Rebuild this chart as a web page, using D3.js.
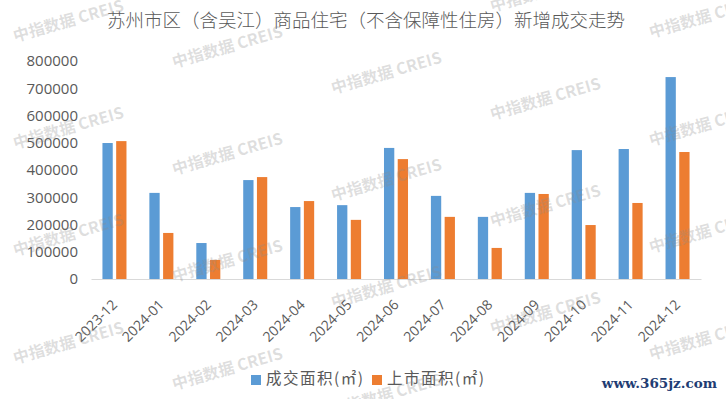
<!DOCTYPE html>
<html>
<head>
<meta charset="utf-8">
<script src="https://cdn.jsdelivr.net/npm/d3@7"></script>
<style>
  body { margin: 0; background: #fff; }
  svg { display: block; }
</style>
</head>
<body>
<script>
const width = 726;
const height = 399;

// 数据
const months = ['2023-12', '2024-01', '2024-02', '2024-03', '2024-04', '2024-05', '2024-06',
                '2024-07', '2024-08', '2024-09', '2024-10', '2024-11', '2024-12'];
const dealArea = [499000, 316000, 132000, 363000, 264000, 271000, 481000,
                  305000, 228000, 316000, 473000, 477000, 741000];
const listArea = [506000, 169000, 70000, 374000, 286000, 217000, 440000,
                  228000, 114000, 312000, 198000, 279000, 466000];
const seriesNames = ['成交面积(㎡)', '上市面积(㎡)'];
const yTicks = [0, 100000, 200000, 300000, 400000, 500000, 600000, 700000, 800000];
const colors = ['#5b9bd5', '#ed7d31'];

const margin = {left: 91, right: 25, top: 61, bottom: 120};

const svg = d3.select('body')
    .append('svg')
    .attr('width', width)
    .attr('height', height);

svg.append('rect').attr('width', width).attr('height', height).attr('fill', '#fff');

const x0 = d3.scaleBand()
    .domain(months)
    .range([margin.left, width - margin.right])
    .paddingInner(0.488)
    .paddingOuter(0.244);

const x1 = d3.scaleBand()
    .domain([0, 1])
    .range([0, x0.bandwidth()])
    .paddingInner(0.25);

const y = d3.scaleLinear()
    .domain([0, 800000])
    .range([279, 61]);

// 标题
svg.append('text')
    .attr('x', 366)
    .attr('y', 22)
    .attr('text-anchor', 'middle')
    .attr('dominant-baseline', 'middle')
    .attr('font-family', '"Noto Sans CJK SC", sans-serif')
    .attr('font-weight', 300)
    .attr('font-size', 18.5)
    .attr('fill', '#595959')
    .text('苏州市区（含吴江）商品住宅（不含保障性住房）新增成交走势');

// y轴
const yAxis = svg.append('g')
    .attr('transform', 'translate(' + margin.left + ',0)')
    .call(d3.axisLeft(y).tickValues(yTicks).tickSize(0).tickPadding(13).tickFormat(d3.format('d')));
yAxis.select('.domain').remove();
yAxis.selectAll('text')
    .attr('font-family', '"Open Sans", sans-serif')
    .attr('font-size', 15)
    .attr('fill', '#595959');

// 柱子
const groups = svg.selectAll('.grp')
    .data(months)
    .enter()
    .append('g')
    .attr('class', 'grp')
    .attr('transform', d => 'translate(' + x0(d) + ',0)');

groups.selectAll('rect')
    .data((d, i) => [dealArea[i], listArea[i]])
    .enter()
    .append('rect')
    .attr('x', (d, j) => x1(j))
    .attr('width', x1.bandwidth())
    .attr('y', d => y(d))
    .attr('height', d => y(0) - y(d))
    .attr('fill', (d, j) => colors[j]);

// x轴
const xAxis = svg.append('g')
    .attr('transform', 'translate(0,' + y(0) + ')')
    .call(d3.axisBottom(x0).tickSize(0).tickSizeOuter(0));
xAxis.select('.domain').attr('stroke', '#d9d9d9').attr('stroke-width', 1.2);
xAxis.selectAll('text')
    .attr('font-family', '"Open Sans", sans-serif')
    .attr('font-size', 14)
    .attr('fill', '#595959')
    .attr('text-anchor', 'end')
    .attr('dominant-baseline', 'middle')
    .attr('dy', null)
    .attr('y', 0)
    .attr('transform', 'translate(1,24) rotate(-45)');

// 图例
const legend = svg.append('g').attr('transform', 'translate(251,380)');
const legendX = [0, 121];
seriesNames.forEach((name, i) => {
    legend.append('rect')
        .attr('x', legendX[i])
        .attr('y', -5)
        .attr('width', 10)
        .attr('height', 10)
        .attr('fill', colors[i]);
    legend.append('text')
        .attr('x', legendX[i] + 15)
        .attr('y', 0)
        .attr('dominant-baseline', 'middle')
        .attr('font-family', '"Noto Sans CJK SC", sans-serif')
        .attr('font-size', 15.5)
        .attr('letter-spacing', 1.5)
        .attr('fill', '#595959')
        .text(name);
});

// 水印
const wmCols = [15, 174, 333, 492, 651];
const wmRows = [-80, 28, 135, 242, 350, 457];
const wm = svg.append('g').attr('pointer-events', 'none');
wmCols.forEach((cx, i) => {
    wmRows.forEach(ry => {
        const yy = ry + 26 * i;
        if (yy < -30 || yy > 420) return;
        wm.append('text')
            .attr('transform', 'translate(' + cx + ',' + (yy + 14) + ') rotate(-16)')
            .attr('font-family', '"Noto Sans CJK SC", sans-serif')
            .attr('font-weight', 'bold')
            .attr('font-size', 16)
            .attr('fill', '#8c8c8c')
            .attr('fill-opacity', 0.28)
            .text('中指数据 CREIS');
    });
});

// 网址
svg.append('text')
    .attr('x', 717)
    .attr('y', 384)
    .attr('text-anchor', 'end')
    .attr('dominant-baseline', 'middle')
    .attr('font-family', '"DejaVu Serif", serif')
    .attr('font-weight', 'bold')
    .attr('font-size', 13.5)
    .attr('fill', '#1f3d73')
    .text('www.365jz.com');
</script>
</body>
</html>
